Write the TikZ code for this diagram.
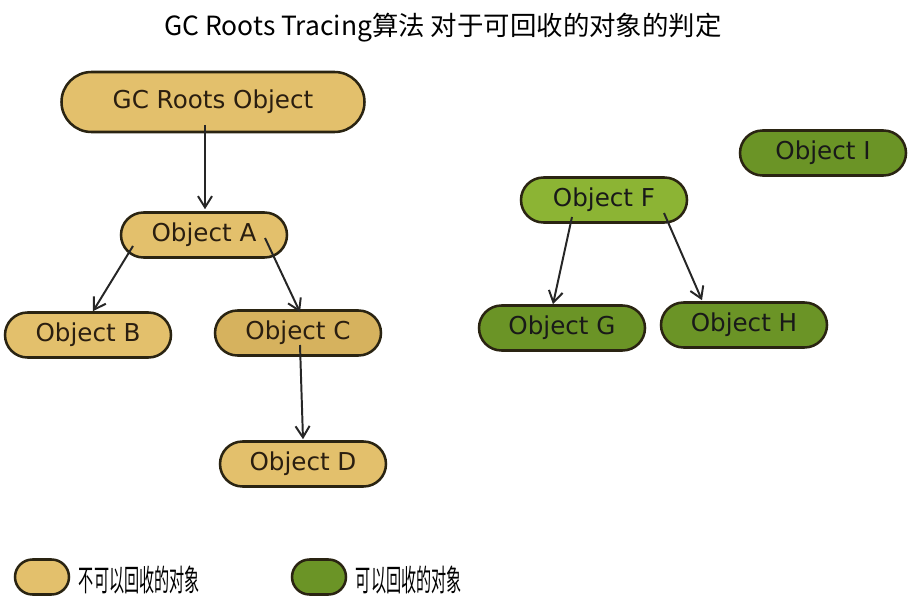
\documentclass[tikz,border=0pt]{standalone}
\usepackage{fontspec}
\setmainfont{DejaVu Sans}
\newfontfamily\cjk{Noto Sans CJK SC}
\newfontfamily\cjknarrow[FakeStretch=0.5]{Noto Sans CJK SC}
\usetikzlibrary{shapes.misc,arrows.meta,calc}

\definecolor{keepfill}{HTML}{E3C06C}
\definecolor{keepdark}{HTML}{D6B25E}
\definecolor{freefill}{HTML}{6B9426}
\definecolor{freelight}{HTML}{8CB434}
\definecolor{edgeline}{HTML}{2A2412}
\definecolor{inktext}{HTML}{2A1E10}

\begin{document}
\begin{tikzpicture}[x=0.025cm,y=-0.025cm,
    obj/.style={rounded rectangle,draw=edgeline,line width=1.8pt,
        minimum width=166*0.025cm,minimum height=45*0.025cm,inner sep=0pt,
        font=\fontsize{17.5}{20}\selectfont,text=inktext},
    keep/.style={obj,fill=keepfill},
    free/.style={obj,fill=freefill,text=black!90},
    link/.style={-{Straight Barb[length=8pt,width=10pt]},line width=1.4pt,black!85}]
            \useasboundingbox (0,0) rectangle (910,604);

            \node (title) at (443,28) {\cjk\fontsize{18.8}{22}\selectfont GC Roots Tracing算法 对于可回收的对象的判定};

            \node[keep,minimum width=303*0.025cm,minimum height=60*0.025cm] (root) at (213,102) {GC Roots Object};
            \node[keep] (a) at (204,235) {Object A};
            \node[keep] (b) at (88,335) {Object B};
            \node[keep,fill=keepdark] (c) at (298,333) {Object C};
            \node[keep] (d) at (303,464) {Object D};

            \node[free] (i) at (823,153) {Object I};
            \node[free,fill=freelight] (f) at (604,200) {Object F};
            \node[free] (g) at (562,328) {Object G};
            \node[free] (h) at (744,325) {Object H};

            \draw[link] ($(root.center)+(-8,23)$) -- ($(a.north)+(1,-2)$);
            \draw[link] ($(a.center)+(-71,11)$) -- ($(b.north)+(5,0)$);
            \draw[link] ($(a.center)+(61,3)$) -- ($(c.north)+(2,3)$);
            \draw[link] ($(c.center)+(2,12)$) -- ($(d.north)+(0,-1)$);
            \draw[link] ($(f.center)+(-32,17)$) -- ($(g.north)+(-9,0)$);
            \draw[link] ($(f.center)+(60,13)$) -- ($(h.north)+(-42,-1)$);

            \node[keep,minimum width=54*0.025cm,minimum height=35*0.025cm] (keepkey) at (42,577) {};
            \node[anchor=west] (keeptext) at (74,580) {\cjknarrow\fontsize{21.5}{24}\selectfont 不可以回收的对象};
            \node[free,minimum width=54*0.025cm,minimum height=35*0.025cm] (freekey) at (319,577) {};
            \node[anchor=west] (freetext) at (351,580) {\cjknarrow\fontsize{21.5}{24}\selectfont 可以回收的对象};
        \end{tikzpicture}
\end{document}
